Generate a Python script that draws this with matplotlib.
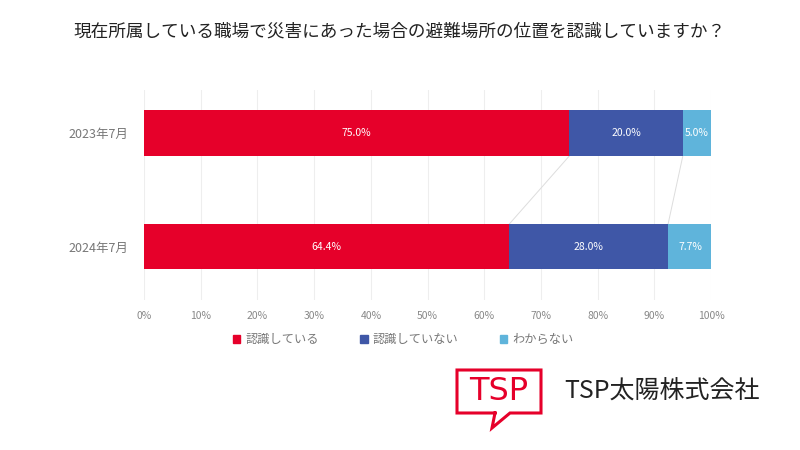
import matplotlib
matplotlib.use('Agg')
from matplotlib import pyplot as plt
from matplotlib.patches import Rectangle
from matplotlib.lines import Line2D

plt.rcParams['font.family'] = ['Noto Sans CJK JP', 'DejaVu Sans']

title = '現在所属している職場で災害にあった場合の避難場所の位置を認識していますか？'
periods = ['2024年7月', '2023年7月']
series_names = ['認識している', '認識していない', 'わからない']
aware = [64.4, 75.0]
not_aware = [28.0, 20.0]
unknown = [7.7, 5.0]
colors = ['#E6002A', '#3F57A7', '#5FB4DB']

fig = plt.figure(figsize=(8, 4.5), dpi=100)
ax = fig.add_axes([0.18, 0.333, 0.709, 0.467])

series = [aware, not_aware, unknown]
ypos = [0, 1]
height = 0.4
left = [0.0, 0.0]
for vals, col in zip(series, colors):
    ax.barh(ypos, vals, left=left, height=height, color=col, zorder=3)
    for y, l, v in zip(ypos, left, vals):
        ax.text(l + v / 2, y, f'{v:.1f}%', ha='center', va='center',
                color='white', fontsize=7.5, zorder=4)
    left = [l + v for l, v in zip(left, vals)]

# connector lines between the bars
cum1 = aware
cum2 = [a + b for a, b in zip(aware, not_aware)]
for cum in (cum1, cum2):
    ax.plot([cum[1], cum[0]], [1 - height / 2, 0 + height / 2],
            color='#dddddd', lw=0.7, zorder=2)

ax.set_xlim(0, 100)
ax.set_ylim(-0.47, 1.38)
ax.set_xticks(range(0, 101, 10))
ax.set_xticklabels([f'{t}%' for t in range(0, 101, 10)])
ax.set_yticks(ypos)
ax.set_yticklabels(periods)
ax.tick_params(axis='both', length=0, colors='#888888', labelsize=7.5)
ax.tick_params(axis='x', pad=8)
ax.tick_params(axis='y', pad=11, labelsize=9, colors='#777777')
ax.grid(axis='x', color='#eeeeee', lw=0.8, zorder=0)
for s in ax.spines.values():
    s.set_visible(False)

fig.text(0.5, 1 - 32 / 450, title, ha='center', va='center', fontsize=12.7,
         color='#222222')

handles = [Rectangle((0, 0), 1, 1, color=c) for c in colors]
fig.legend(handles, series_names, loc='center', bbox_to_anchor=(0.504, 0.245),
           ncol=3, frameon=False, fontsize=8.8, handlelength=0.6, handleheight=0.6,
           handletextpad=0.4, columnspacing=3.4, labelcolor='#777777')

# logo
W, H = 800, 450
def fx(px):
    return px / W
def fy(py):
    return 1 - py / H
red = '#E6002A'
pts_x = [495, 457, 457, 541, 541, 510, 492, 495]
pts_y = [413, 413, 370, 370, 413, 413, 428, 413]
fig.add_artist(Line2D([fx(p) for p in pts_x], [fy(p) for p in pts_y],
                      color=red, lw=2.2, solid_joinstyle='miter'))
fig.text(fx(499), fy(392), 'TSP', ha='center', va='center', color=red,
         fontsize=23, family='DejaVu Sans', weight='medium')
fig.text(fx(564), fy(392), 'TSP太陽株式会社', ha='left', va='center',
         color='#222222', fontsize=18)

fig.savefig('out.png', dpi=100)
